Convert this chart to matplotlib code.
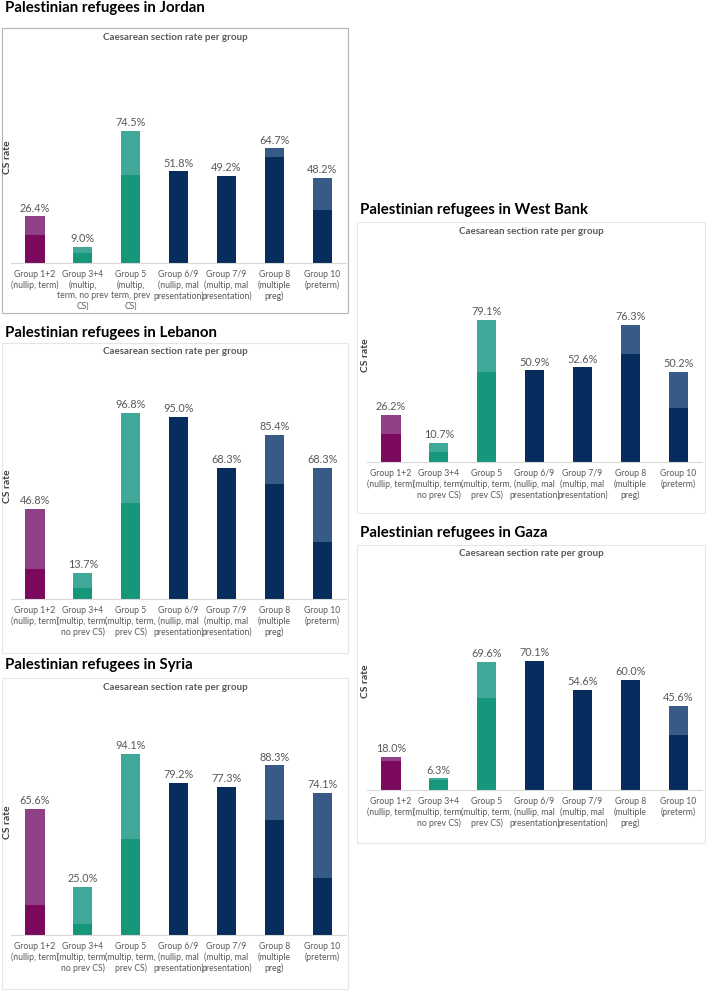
import matplotlib
matplotlib.use("Agg")
import matplotlib.pyplot as plt
from matplotlib.patches import Rectangle
import numpy as np

plt.rcParams['font.family'] = ['Lato', 'DejaVu Sans']

W, H = 706, 991

groups_short = ["Group 1+2\n(nullip, term)",
                "Group 3+4\n(multip, term,\nno prev CS)",
                "Group 5\n(multip, term,\nprev CS)",
                "Group 6/9\n(nullip, mal\npresentation)",
                "Group 7/9\n(multip, mal\npresentation)",
                "Group 8\n(multiple\npreg)",
                "Group 10\n(preterm)"]
groups_jordan = ["Group 1+2\n(nullip, term)",
                 "Group 3+4\n(multip,\nterm, no prev\nCS)",
                 "Group 5\n(multip,\nterm, prev\nCS)",
                 "Group 6/9\n(nullip, mal\npresentation)",
                 "Group 7/9\n(multip, mal\npresentation)",
                 "Group 8\n(multiple\npreg)",
                 "Group 10\n(preterm)"]

jordan = [26.4, 9.0, 74.5, 51.8, 49.2, 64.7, 48.2]
lebanon = [46.8, 13.7, 96.8, 95.0, 68.3, 85.4, 68.3]
syria = [65.6, 25.0, 94.1, 79.2, 77.3, 88.3, 74.1]
west_bank = [26.2, 10.7, 79.1, 50.9, 52.6, 76.3, 50.2]
gaza = [18.0, 6.3, 69.6, 70.1, 54.6, 60.0, 45.6]
# reference rate (darker part of each bar)
reference = [15.7, 5.6, 49.8, 100.0, 100.0, 59.9, 29.8]

dark_cols = ["#7b0a5f", "#16967b", "#16967b", "#062d5e", "#062d5e", "#062d5e", "#062d5e"]
light_cols = ["#8e4186", "#40a898", "#40a898", "#375a86", "#375a86", "#375a86", "#375a86"]

# title, values, labels, title_y, box(x0,y0,x1,y1), axes(x0,x1,baseline,top), ylabel_x, border colour
panels = [
    ("Palestinian refugees in Jordan", jordan, groups_jordan, 8, (2, 28, 348, 313), (11, 346, 263, 86), 8, "#b5b5b5"),
    ("Palestinian refugees in Lebanon", lebanon, groups_short, 333, (2, 343, 348, 653), (11, 346, 599, 407), 8, "#e6e6e6"),
    ("Palestinian refugees in Syria", syria, groups_short, 665, (2, 678, 348, 989), (11, 346, 935, 743), 8, "#e6e6e6"),
    ("Palestinian refugees in West Bank", west_bank, groups_short, 210, (357, 222, 705, 513), (367, 702, 462, 282), 365, "#e6e6e6"),
    ("Palestinian refugees in Gaza", gaza, groups_short, 533, (357, 545, 705, 843), (367, 702, 790, 606), 365, "#e6e6e6"),
]

fig = plt.figure(figsize=(W / 100, H / 100), dpi=100)

def fx(x):
    return x / W

def fy(y):
    return 1 - y / H

for title, vals, labels, ty, box, axp, ylx, bcol in panels:
    bx0, by0, bx1, by1 = box
    fig.patches.append(Rectangle((fx(bx0), fy(by1)), fx(bx1) - fx(bx0), fy(by0) - fy(by1),
                                 transform=fig.transFigure, fill=False, edgecolor=bcol, linewidth=0.8))
    fig.text(fx(bx0 + 3), fy(ty), title, fontsize=10.8, fontweight='bold', color='black', va='center', ha='left')
    fig.text(fx((bx0 + bx1) / 2), fy(by0 + 9), "Caesarean section rate per group", fontsize=7,
             fontweight='bold', color='#595959', ha='center', va='center')
    ax0, ax1, base, top = axp
    ax = fig.add_axes([fx(ax0), fy(base), fx(ax1) - fx(ax0), fy(top) - fy(base)])
    fig.text(fx(ylx), fy((base + top) / 2 - 17), "CS rate", rotation=90, fontsize=7.5, fontweight='bold',
             color='#404040', ha='center', va='center')

    v = np.array(vals)
    dark = np.minimum(v, reference)
    light = v - dark
    x = np.arange(len(v))
    ax.bar(x, dark, width=0.4, color=dark_cols, zorder=2)
    ax.bar(x, light, width=0.4, bottom=dark, color=light_cols, zorder=2)
    for xi, vi in zip(x, v):
        ax.text(xi, vi + 1.5, f"{vi:.1f}%", ha='center', va='bottom', fontsize=7.8, color='#595959')
    ax.set_ylim(0, 100)
    ax.set_xlim(-0.5, len(v) - 0.5)
    ax.set_xticks(x)
    ax.set_xticklabels(labels, fontsize=6.2, color='#595959', linespacing=1.2)
    ax.tick_params(axis='x', length=0, pad=5)
    ax.set_yticks([])
    for s in ['top', 'right', 'left']:
        ax.spines[s].set_visible(False)
    ax.spines['bottom'].set_color('#d9d9d9')
    ax.spines['bottom'].set_linewidth(0.8)
    ax.patch.set_alpha(0)

fig.savefig("out.png", dpi=100)
